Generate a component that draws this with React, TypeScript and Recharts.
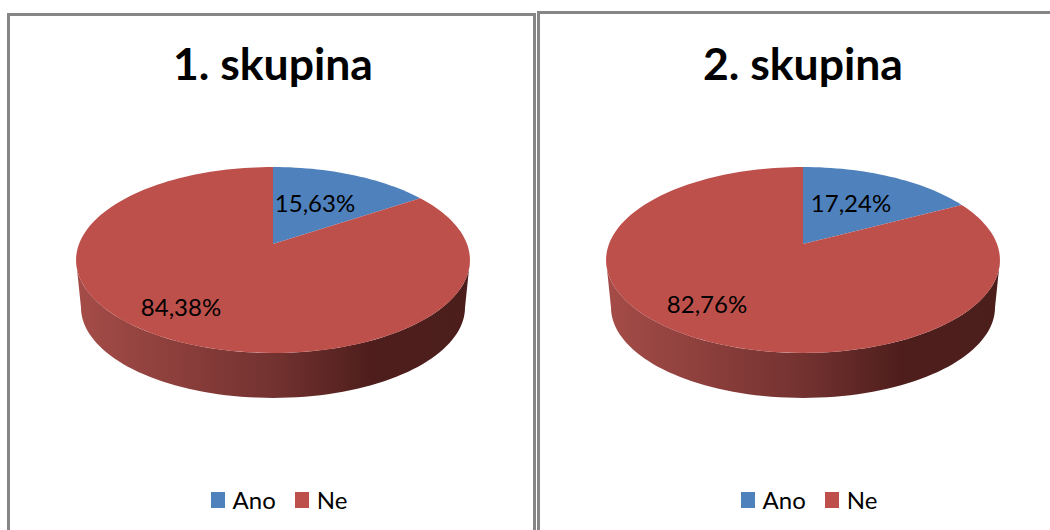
import { PieChart, Pie, Cell, Legend } from "recharts"

const categories = ["Ano", "Ne"]
const group1Values = [15.63, 84.38]
const group2Values = [17.24, 82.76]
const colors = ["#4F81BD", "#BE504C"]

const FONT = "Lato, sans-serif"
const SQUASH = 0.465 // vertical radius / horizontal radius of the tilted pie
const PERSPECTIVE = 0.172 // back of the pie is drawn smaller than the front
const DEPTH = 47.7
const BOTTOM_SCALE = 0.975

// point on the rim, theta in degrees clockwise from 12 o'clock
function rim(cx: number, cy: number, r: number, theta: number, scale = 1, dy = 0) {
  const t = (theta * Math.PI) / 180
  const w = 1 + PERSPECTIVE * Math.cos(t)
  return [cx + (scale * r * Math.sin(t)) / w, cy + dy - (scale * r * SQUASH * Math.cos(t)) / w]
}

function arc(cx: number, cy: number, r: number, from: number, to: number, scale = 1, dy = 0) {
  const steps = Math.max(2, Math.ceil(Math.abs(to - from) / 2))
  const pts: string[] = []
  for (let i = 0; i <= steps; i++) {
    const p = rim(cx, cy, r, from + ((to - from) * i) / steps, scale, dy)
    pts.push(`${p[0].toFixed(2)} ${p[1].toFixed(2)}`)
  }
  return pts
}

function Slice3D(props: any) {
  const { cx, cy, outerRadius, startAngle, endAngle, fill } = props
  const from = 90 - startAngle
  const to = 90 - endAngle
  // only the front of the rim shows a wall
  const wallFrom = Math.max(from, 100)
  const wallTo = Math.min(to, 260)
  const top = arc(cx, cy, outerRadius, from, to)
  return (
    <g>
      {wallTo > wallFrom && (
        <path
          d={`M${arc(cx, cy, outerRadius, wallFrom, wallTo).join("L")}L${arc(cx, cy, outerRadius, wallTo, wallFrom, BOTTOM_SCALE, DEPTH).join("L")}Z`}
          fill="url(#wallShade)"
        />
      )}
      <path d={`M${cx} ${cy}L${top.join("L")}Z`} fill={fill} />
    </g>
  )
}

function SliceLegend({ payload }: any) {
  return (
    <div style={{ display: "flex", justifyContent: "center", fontFamily: FONT, fontSize: 24, color: "#000", lineHeight: "28px" }}>
      {(payload ?? []).map((p: any) => (
        <span key={p.value} style={{ display: "flex", alignItems: "center", marginRight: 19 }}>
          <span style={{ width: 14, height: 16, background: p.color, marginRight: 8 }} />
          {p.value}
        </span>
      ))}
    </div>
  )
}

interface PanelProps {
  left: number
  top: number
  width: number
  title: string
  values: number[]
  center: [number, number]
  labelAt: [number, number][]
  titleTop: number
  legendTop: number
}

function Panel({ left, top, width, title, values, center, labelAt, titleTop, legendTop }: PanelProps) {
  const data = categories.map((name, i) => ({ name, value: values[i] }))
  return (
    <div
      style={{
        position: "absolute",
        left,
        top,
        width,
        height: 600,
        border: "3px solid #868686",
        boxSizing: "border-box",
        background: "#fff",
      }}
    >
      <div
        style={{
          position: "absolute",
          left: center[0] - 150,
          top: titleTop,
          width: 300,
          textAlign: "center",
          fontFamily: FONT,
          fontWeight: 700,
          fontSize: 44.5,
          lineHeight: "50px",
          color: "#000",
        }}
      >
        {title}
      </div>
      <PieChart width={width - 6} height={530} margin={{ top: 0, right: 0, bottom: 0, left: 0 }}>
        <defs>
          <linearGradient id="wallShade" x1="0" y1="0" x2="1" y2="0">
            <stop offset="0" stopColor="#A54C48" />
            <stop offset="0.5" stopColor="#733230" />
            <stop offset="0.75" stopColor="#4E1E1C" />
            <stop offset="1" stopColor="#4B1E1C" />
          </linearGradient>
        </defs>
        <Pie
          data={data}
          dataKey="value"
          nameKey="name"
          cx={center[0]}
          cy={center[1]}
          outerRadius={194}
          startAngle={90}
          endAngle={-270}
          stroke="none"
          isAnimationActive={false}
          shape={Slice3D}
          labelLine={false}
          label={(p: any) => (
            <text
              x={center[0] + labelAt[p.index][0]}
              y={center[1] + labelAt[p.index][1]}
              textAnchor="middle"
              dominantBaseline="central"
              fontFamily={FONT}
              fontSize={24}
              fill="#000"
            >
              {p.value.toFixed(2).replace(".", ",") + "%"}
            </text>
          )}
        >
          {data.map((d, i) => (
            <Cell key={d.name} fill={colors[i]} />
          ))}
        </Pie>
        <Legend
          content={<SliceLegend />}
          wrapperStyle={{ position: "absolute", left: 188.5, top: legendTop, width: 180, bottom: "auto" }}
        />
      </PieChart>
    </div>
  )
}

export default function App() {
  return (
    <div style={{ position: "absolute", left: 0, top: 0, width: 1050, height: 530, overflow: "hidden", background: "#fff" }}>
      <Panel
        left={7}
        top={13}
        width={529}
        title="1. skupina"
        values={group1Values}
        center={[263, 228]}
        labelAt={[[42, -42], [-92, 62]]}
        titleTop={22}
        legendTop={470}
      />
      <Panel
        left={537}
        top={11}
        width={529}
        title="2. skupina"
        values={group2Values}
        center={[263, 230]}
        labelAt={[[48, -42], [-96, 59]]}
        titleTop={24}
        legendTop={472}
      />
    </div>
  )
}
